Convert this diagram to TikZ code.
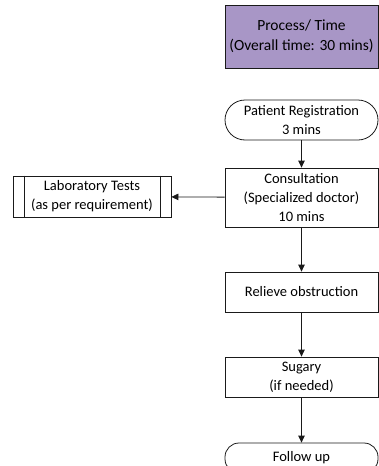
\documentclass[tikz,border=0pt]{standalone}
\usepackage{fontspec}
\setmainfont{Carlito}
\usetikzlibrary{arrows.meta}
\definecolor{hdr}{HTML}{A896C6}
\definecolor{ln}{HTML}{1A1A1A}
\begin{document}
\begin{tikzpicture}[x=1pt,y=-1pt,
  every node/.style={font=\fontsize{14.5}{19}\selectfont, align=center, inner sep=0pt, text=black},
  box/.style={draw=ln, line width=0.8pt, minimum width=153pt},
  arr/.style={draw=ln, line width=0.8pt, -{Triangle[length=7pt,width=6.5pt]}}]
\useasboundingbox (0,0) rectangle (379,466);
\node[box, fill=hdr, minimum height=63pt, font=\fontsize{15.5}{20}\selectfont] (hdr) at (301.5,36.5) {Process/ Time\\(Overall time: 30 mins)};
\node[box, rounded corners=20pt, minimum height=40pt] (reg) at (301.5,120) {Patient Registration\\3 mins};
\node[box, minimum height=59pt] (cons) at (301.5,197.5) {Consultation\\(Specialized doctor)\\10 mins};
\node[box, minimum width=158pt, minimum height=41pt] (lab) at (92,196.5) {Laboratory Tests\\(as per requirement)};
\draw[ln, line width=0.8pt] ([xshift=12pt]lab.north west) -- ([xshift=12pt]lab.south west)
  ([xshift=-11pt]lab.north east) -- ([xshift=-11pt]lab.south east);
\node[box, minimum height=40pt] (rel) at (301.5,292) {Relieve obstruction};
\node[box, minimum height=40pt] (sug) at (301.5,377) {Sugary\\(if needed)};
\node[box, rounded corners=14pt, minimum height=30pt] (fol) at (301.5,458) {Follow up};
\draw[arr] (reg) -- (cons);
\draw[arr] (cons) -- (lab);
\draw[arr] (cons) -- (rel);
\draw[arr] (rel) -- (sug);
\draw[arr] (sug) -- (fol);
\end{tikzpicture}
\end{document}
